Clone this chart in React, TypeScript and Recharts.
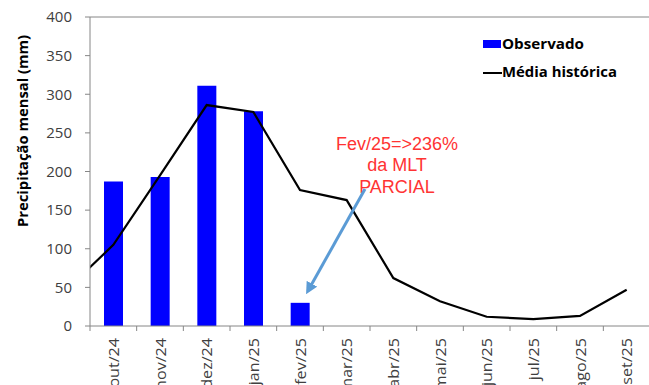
import React from 'react';
import { ComposedChart, Bar, Line, XAxis, YAxis, ReferenceLine } from 'recharts';

const months = ['out/24', 'nov/24', 'dez/24', 'jan/25', 'fev/25', 'mar/25', 'abr/25', 'mai/25', 'jun/25', 'jul/25', 'ago/25', 'set/25'];
const observado = [187, 193, 311, 278, 30, null, null, null, null, null, null, null];
// média histórica starts one month earlier (set/24) so the line runs in from the left edge
const mediaHistorica = [47, 105, 195, 286, 277, 176, 163, 62, 32, 12, 9, 13, 47];
const yTicks = [0, 50, 100, 150, 200, 250, 300, 350, 400];

const barData = months.map((m, i) => ({ month: m, observado: observado[i] }));
const lineData = mediaHistorica.map((v, i) => ({ pos: i - 0.5, media: v }));

const FONT = '"Open Sans", sans-serif';
const AXIS = '#868686';

// the source image is stretched along the text direction, so the labels are widened a bit
const MonthTick = (props: any) => {
  const { x, y, payload, index } = props;
  const half = payload.offset || 23.3;
  const last = index === months.length - 1;
  const ty = y + 12;
  return (
    <g>
      <line x1={x - half} x2={x - half} y1={y} y2={y + 5} stroke={AXIS} />
      {last && <line x1={x + half} x2={x + half} y1={y} y2={y + 5} stroke={AXIS} />}
      <text
        transform={`translate(${x}, ${ty}) rotate(-90) scale(1.15, 1)`}
        textAnchor="end"
        dominantBaseline="central"
        fill="#404040"
        fontSize={14}
        fontFamily={FONT}
      >
        {payload.value}
      </text>
    </g>
  );
};

export default function App() {
  return (
    <div style={{ position: 'absolute', left: 0, top: 0, width: 649, height: 385, overflow: 'hidden', background: '#fff' }}>
      <ComposedChart width={660} height={385} data={barData} margin={{ top: 17, right: 10, bottom: 0, left: 0 }}>
        <XAxis
          dataKey="month"
          height={59}
          axisLine={{ stroke: AXIS }}
          tickLine={false}
          tickSize={0}
          tickMargin={0}
          interval={0}
          tick={<MonthTick />}
        />
        <XAxis xAxisId="line" type="number" dataKey="pos" domain={[0, 12]} allowDataOverflow hide />
        <YAxis
          width={90}
          domain={[0, 400]}
          ticks={yTicks}
          interval={0}
          tickSize={5}
          tickMargin={13}
          axisLine={{ stroke: AXIS }}
          tickLine={{ stroke: AXIS }}
          tick={{ fill: '#404040', fontSize: 15, fontFamily: FONT }}
        />
        <ReferenceLine y={400} stroke={AXIS} />
        <Bar dataKey="observado" fill="#0000ff" barSize={19} isAnimationActive={false} />
        <Line
          data={lineData}
          xAxisId="line"
          dataKey="media"
          stroke="#000"
          strokeWidth={2.2}
          dot={false}
          isAnimationActive={false}
        />
      </ComposedChart>

      <svg width={649} height={385} style={{ position: 'absolute', left: 0, top: 0, pointerEvents: 'none' }}>
        <defs>
          <marker id="arrowHead" viewBox="0 0 10 10" refX="5" refY="5" markerWidth="4" markerHeight="4" orient="auto-start-reverse">
            <path d="M0,0 L10,5 L0,10 z" fill="#5b9bd5" />
          </marker>
        </defs>
        <text
          x={22}
          y={131}
          transform="rotate(-90, 22, 131)"
          textAnchor="middle"
          dominantBaseline="central"
          fontFamily={FONT}
          fontWeight="bold"
          fontSize={15}
          textLength={192}
          lengthAdjust="spacingAndGlyphs"
          fill="#000"
        >
          Precipitação  mensal (mm)
        </text>

        <g fontFamily='"Liberation Sans", Arial, sans-serif' fontSize={18} fill="#ff3333" textAnchor="middle">
          <text x={397} y={150}>Fev/25=&gt;236%</text>
          <text x={397} y={171}>da MLT</text>
          <text x={397} y={193}>PARCIAL</text>
        </g>
        <line x1={365} y1={189} x2={309} y2={289} stroke="#5b9bd5" strokeWidth={3} markerEnd="url(#arrowHead)" />

        <g fontFamily={FONT} fontWeight="bold" fontSize={14} fill="#000">
          <rect x={483} y={40} width={18} height={8} fill="#0000ff" />
          <text x={502} y={49} textLength={82} lengthAdjust="spacingAndGlyphs">Observado</text>
          <line x1={483} x2={502} y1={73} y2={73} stroke="#000" strokeWidth={2} />
          <text x={502} y={77} textLength={115} lengthAdjust="spacingAndGlyphs">Média histórica</text>
        </g>
      </svg>
    </div>
  );
}
